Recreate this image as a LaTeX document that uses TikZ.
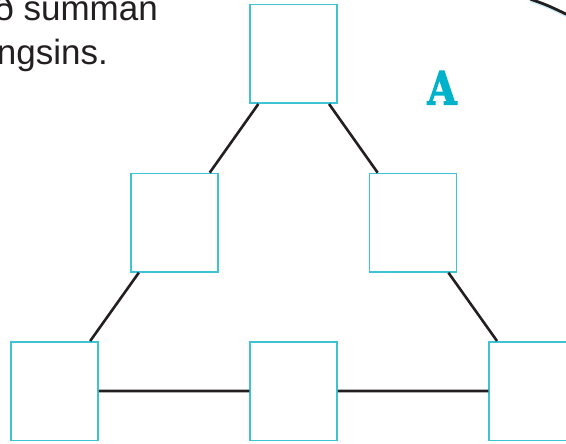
\documentclass[tikz,border=0pt]{standalone}
\usepackage{fontspec}
\setmainfont{Liberation Sans}
\newfontfamily\slabfont[FakeBold=2.5]{DejaVu Serif}
\definecolor{ink}{HTML}{231F20}
\definecolor{boxc}{HTML}{3EC3D5}
\definecolor{acol}{HTML}{00B3CB}
\begin{document}
\begin{tikzpicture}[x=1pt,y=-1pt,
  cell/.style={draw=boxc,line width=1.5pt,minimum width=87pt,minimum height=98.5pt,inner sep=0pt,fill=white},
  link/.style={draw=ink,line width=2.6pt},
  txt/.style={anchor=base east,inner sep=0pt,text=ink,font=\fontsize{35}{42}\selectfont}]
\useasboundingbox (0,0) rectangle (566,444);
\node[cell] (t) at (293.7,54) {};
\node[cell] (ml) at (174.3,222.7) {};
\node[cell] (mr) at (413,222.7) {};
\node[cell] (bl) at (54.7,391) {};
\node[cell] (bm) at (293.7,391) {};
\node[cell] (br) at (532.5,391) {};
\draw[link] (bl)--(ml) (ml)--(t) (t)--(mr) (mr)--(br) (bl)--(bm) (bm)--(br);
\node[txt] (l1) at (158,21) {ð summan};
\node[txt] (l2) at (108,65) {ngsins.};
\node[anchor=base,inner sep=0pt,text=acol,font=\slabfont\bfseries\fontsize{46}{46}\selectfont] (lblA) at (442,104.5) {\scalebox{0.82}[1]{A}};
\coordinate (c1) at (530,-1);
\coordinate (c2) at (568,15);
\draw[cyan!20,line width=2pt] ([yshift=-2pt]c1) .. controls (547,7) .. ([yshift=-2pt]c2);
\draw[ink,line width=2.8pt] (c1) .. controls (547,5) .. (c2);
\end{tikzpicture}
\end{document}
